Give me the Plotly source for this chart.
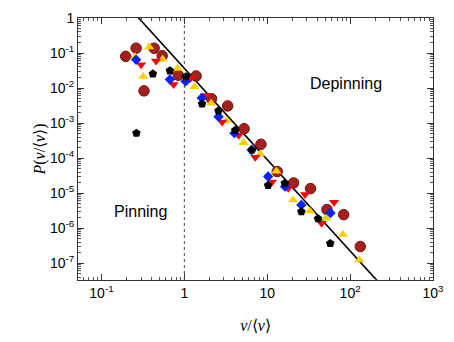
import numpy as np
import plotly.graph_objects as go

# ---- data ----
circ_x = [0.196, 0.262, 0.326, 0.432, 0.540, 0.845, 1.386, 2.13, 3.33, 5.26, 8.40, 13.2, 20.8, 33.3, 52.6, 83.6, 132.7]
circ_y = [0.0803, 0.1374, 0.00832, 0.1374, 0.0839, 0.0233, 0.0221, 0.00495, 0.00309, 6.90e-4, 2.48e-4, 4.12e-5, 1.96e-5, 1.35e-5, 3.40e-6, 2.43e-6, 2.99e-7]

yel_x = [0.255, 0.319, 0.377, 0.547, 0.827, 1.323, 2.11, 3.27, 5.19, 8.24, 12.9, 20.5, 32.7, 51.5, 81.8, 129.8]
yel_y = [0.0788, 0.0215, 0.148, 0.0667, 0.0360, 0.01084, 0.00367, 0.00119, 2.75e-4, 1.32e-4, 4.19e-5, 6.42e-6, 3.11e-6, 1.92e-6, 6.60e-7, 1.24e-7]

red_x = [0.301, 0.456, 0.741, 1.193, 1.799, 2.86, 4.53, 7.18, 11.4, 17.9, 28.6, 45.3, 64.0]
red_y = [0.0460, 0.0589, 0.01254, 0.0190, 0.00614, 0.00108, 4.53e-4, 1.06e-4, 2.08e-5, 1.37e-5, 9.14e-6, 1.38e-6, 5.50e-6]

blue_x = [0.262, 0.669, 1.036, 1.622, 2.59, 4.01, 6.49, 10.25, 16.4, 25.8, 57.9]
blue_y = [0.0643, 0.0176, 0.0155, 0.00524, 0.00152, 5.15e-4, 1.71e-4, 2.97e-5, 1.53e-5, 4.62e-6, 2.70e-6]

blk_x = [0.264, 0.417, 0.670, 1.045, 1.636, 2.58, 4.11, 6.53, 10.25, 16.3, 25.8, 41.0, 57.6]
blk_y = [5.13e-4, 0.0254, 0.0312, 0.0211, 0.00352, 0.00224, 6.21e-4, 1.71e-4, 1.67e-5, 1.92e-5, 2.96e-6, 1.86e-6, 3.67e-7]

# power-law fit  P = 10**fit_logA * x**fit_slope
fit_logA = -1.436
fit_slope = -2.607
fit_x = np.logspace(-0.75, 2.5, 60)
fit_y = 10 ** fit_logA * fit_x ** fit_slope

x_tickvals = [0.1, 1, 10, 100, 1000]
x_ticktext = ["10<sup>-1</sup>", "1", "10", "10<sup>2</sup>", "10<sup>3</sup>"]
y_tickvals = [1, 1e-1, 1e-2, 1e-3, 1e-4, 1e-5, 1e-6, 1e-7]
y_ticktext = ["1"] + ["10<sup>-%d</sup>" % k for k in range(1, 8)]

X_RANGE = [-1.283, 3]
Y_RANGE = [-7.48, 0]
x_minor = [m * 10.0 ** e for e in range(-2, 3) for m in range(2, 10)
           if X_RANGE[0] < np.log10(m * 10.0 ** e) < X_RANGE[1]]
y_minor = [m * 10.0 ** e for e in range(-8, 0) for m in range(2, 10)
           if Y_RANGE[0] < np.log10(m * 10.0 ** e) < Y_RANGE[1]]

fig = go.Figure()
fig.add_trace(go.Scatter(x=fit_x, y=fit_y, mode="lines",
                         line=dict(color="black", width=1.6), showlegend=False))
fig.add_trace(go.Scatter(x=circ_x, y=circ_y, mode="markers", showlegend=False,
                         marker=dict(symbol="circle", size=10.5, color="#a3201d",
                                     line=dict(color="#6e1210", width=1))))
fig.add_trace(go.Scatter(x=yel_x, y=yel_y, mode="markers", showlegend=False,
                         marker=dict(symbol="triangle-up", size=9, color="#ffcc00", line=dict(width=0))))
fig.add_trace(go.Scatter(x=red_x, y=red_y, mode="markers", showlegend=False,
                         marker=dict(symbol="triangle-down", size=9, color="#ff0000", line=dict(width=0))))
fig.add_trace(go.Scatter(x=blue_x, y=blue_y, mode="markers", showlegend=False,
                         marker=dict(symbol="diamond", size=8, color="#0022ff", line=dict(width=0))))
fig.add_trace(go.Scatter(x=blk_x, y=blk_y, mode="markers", showlegend=False,
                         marker=dict(symbol="pentagon", size=9, color="black", line=dict(width=0))))
# invisible trace to carry the minor-tick overlay axes
fig.add_trace(go.Scatter(x=[None], y=[None], xaxis="x2", yaxis="y2", showlegend=False,
                         hoverinfo="skip"))

# dotted vertical line at x = 1
fig.add_shape(type="line", xref="x", yref="paper", x0=1, x1=1, y0=0, y1=1,
              line=dict(color="#444444", width=1, dash="dot"))

fig.add_annotation(x=np.log10(88.5), y=np.log10(0.0131), text="Depinning", showarrow=False,
                   font=dict(family="Liberation Sans, Arial", size=16, color="black"))
fig.add_annotation(x=np.log10(0.297), y=np.log10(2.9e-6), text="Pinning", showarrow=False,
                   font=dict(family="Liberation Sans, Arial", size=16, color="black"))

tickfont = dict(family="Liberation Sans, Arial", size=14, color="black")
axis_common = dict(showline=True, linecolor="#333333", linewidth=1, mirror="ticks",
                   ticks="inside", ticklen=6, tickcolor="#333333", showgrid=False,
                   zeroline=False, tickfont=tickfont)
minor_common = dict(showline=False, mirror="ticks", ticks="inside", ticklen=3,
                    tickcolor="#555555", showgrid=False, zeroline=False,
                    showticklabels=False)

fig.update_layout(
    width=454, height=342, margin=dict(l=78, r=13, t=10, b=54),
    plot_bgcolor="white", paper_bgcolor="white",
    xaxis=dict(type="log", range=X_RANGE, tickvals=x_tickvals, ticktext=x_ticktext,
               ticklabeloverflow="allow",
               title=dict(text="<i>v</i>/⟨<i>v</i>⟩", standoff=20,
                          font=dict(family="Liberation Serif, Times New Roman", size=16, color="black")),
               **axis_common),
    yaxis=dict(type="log", range=Y_RANGE, tickvals=y_tickvals, ticktext=y_ticktext,
               title=dict(text="<i>P</i>(<i>v</i>/⟨<i>v</i>⟩)", standoff=0,
                          font=dict(family="Liberation Serif, Times New Roman", size=16, color="black")),
               **axis_common),
    xaxis2=dict(type="log", range=X_RANGE, overlaying="x", anchor="y2", side="bottom",
                tickvals=x_minor, **minor_common),
    yaxis2=dict(type="log", range=Y_RANGE, overlaying="y", anchor="x2", side="left",
                tickvals=y_minor, **minor_common),
)

fig.write_html("out.html", config={"displayModeBar": False},
               post_script="document.body.style.margin='0';document.body.style.overflow='hidden';")
